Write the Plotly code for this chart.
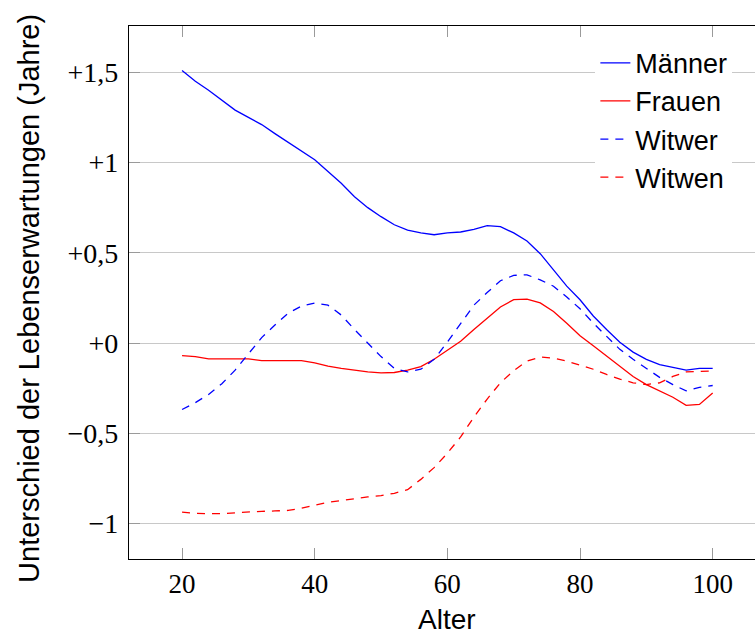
import plotly.graph_objects as go

alter = list(range(20, 101, 2))

maenner = [1.51, 1.45, 1.40, 1.345, 1.29, 1.25, 1.21, 1.16, 1.11, 1.065,
           1.015, 0.95, 0.885, 0.81, 0.75, 0.70, 0.655, 0.625, 0.61, 0.60,
           0.61, 0.615, 0.63, 0.65, 0.645, 0.61, 0.565, 0.495, 0.405, 0.315,
           0.24, 0.15, 0.075, 0.005, -0.05, -0.09, -0.12, -0.135, -0.15, -0.14,
           -0.14]

frauen = [-0.07, -0.075, -0.088, -0.088, -0.088, -0.088, -0.097, -0.097, -0.097, -0.097,
          -0.11, -0.128, -0.14, -0.152, -0.16, -0.165, -0.163, -0.15, -0.13, -0.09,
          -0.04, 0.01, 0.075, 0.14, 0.20, 0.24, 0.243, 0.222, 0.175, 0.11,
          0.04, -0.015, -0.073, -0.13, -0.185, -0.23, -0.265, -0.30, -0.345, -0.34,
          -0.276]

witwer = [-0.368, -0.33, -0.285, -0.225, -0.15, -0.06, 0.03, 0.10, 0.165, 0.205,
          0.222, 0.21, 0.155, 0.075, 0.0, -0.075, -0.14, -0.16, -0.145, -0.09,
          0.005, 0.11, 0.21, 0.28, 0.345, 0.375, 0.378, 0.35, 0.315, 0.255,
          0.19, 0.11, 0.038, -0.035, -0.09, -0.14, -0.19, -0.23, -0.265, -0.245,
          -0.235]

witwen = [-0.936, -0.943, -0.945, -0.945, -0.94, -0.935, -0.932, -0.93, -0.927, -0.915,
          -0.897, -0.882, -0.872, -0.86, -0.852, -0.845, -0.832, -0.812, -0.755, -0.69,
          -0.61, -0.52, -0.41, -0.31, -0.22, -0.153, -0.10, -0.077, -0.084, -0.10,
          -0.122, -0.145, -0.174, -0.20, -0.22, -0.23, -0.22, -0.185, -0.16, -0.157,
          -0.155]

x_ticks = [20, 40, 60, 80, 100]
y_ticks = [1.5, 1.0, 0.5, 0.0, -0.5, -1.0]
y_ticktext = ["+1,5", "+1", "+0,5", "+0", "\u22120,5", "\u22121"]

series = [
    ("Männer", maenner, "#0000ff", "solid"),
    ("Frauen", frauen, "#ff0000", "solid"),
    ("Witwer", witwer, "#0000ff", "8px,7px"),
    ("Witwen", witwen, "#ff0000", "8px,7px"),
]

fig = go.Figure()
for name, vals, color, dash in series:
    fig.add_trace(go.Scatter(x=alter, y=vals, mode="lines", name=name,
                             line=dict(color=color, width=1.3, dash=dash)))

serif = "Liberation Serif"
sans = "Liberation Sans"

fig.update_layout(
    width=755, height=634,
    margin=dict(l=129, r=0, t=26, b=75),
    paper_bgcolor="white", plot_bgcolor="white",
    showlegend=True,
    legend=dict(x=0.745, xanchor="left", y=0.976, yanchor="top",
                bgcolor="white", borderwidth=0,
                font=dict(family=sans, size=27, color="black"),
                tracegroupgap=0),
    xaxis=dict(range=[12, 106.38], tickvals=x_ticks, ticktext=[str(v) for v in x_ticks],
               ticks="inside", ticklen=11, tickwidth=1.3, tickcolor="#9a9a9a",
               showline=True, linecolor="black", linewidth=1.3, mirror="allticks",
               showgrid=False, zeroline=False,
               tickfont=dict(family=serif, size=27, color="black")),
    yaxis=dict(range=[-1.196, 1.756], tickvals=y_ticks, ticktext=y_ticktext,
               ticks="inside", ticklen=11, tickwidth=1.3, tickcolor="#9a9a9a",
               showline=True, linecolor="black", linewidth=1.3, mirror=False,
               showgrid=True, gridcolor="#c8c8c8", gridwidth=1.2, zeroline=False,
               ticklabelstandoff=4,
               tickfont=dict(family=serif, size=28, color="black")),
    annotations=[
        dict(text="Alter", xref="paper", yref="paper", x=(447 - 129) / 626, y=-0.113,
             xanchor="center", yanchor="middle", showarrow=False,
             font=dict(family=sans, size=28, color="black")),
        dict(text="Unterschied der Lebenserwartungen (Jahre)", xref="paper", yref="paper",
             x=-100 / 626, y=0.488, xanchor="center", yanchor="middle", textangle=-90,
             showarrow=False, font=dict(family=sans, size=29, color="black")),
    ],
)

fig.write_html("out.html",
               config={"displayModeBar": False},
               post_script="document.body.style.margin='0';document.body.style.overflow='hidden';")
